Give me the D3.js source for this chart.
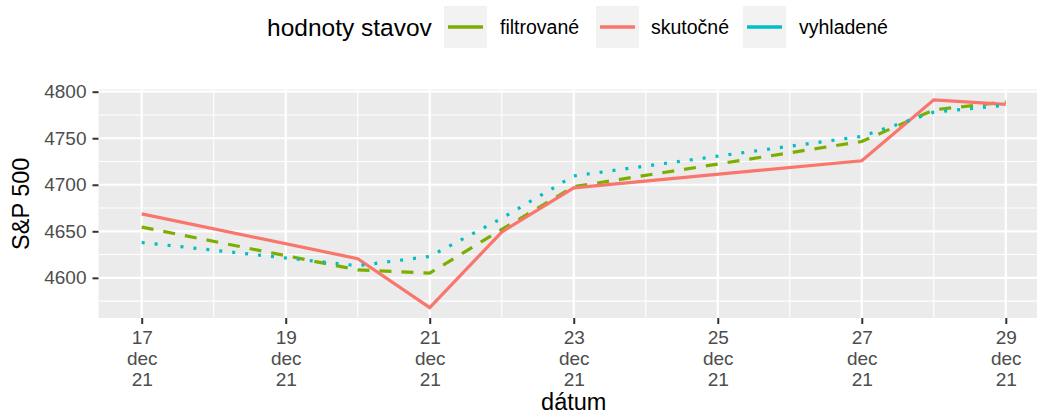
<!DOCTYPE html>
<html>
<head>
<meta charset="utf-8">
<script src="https://cdn.jsdelivr.net/npm/d3@7"></script>
<style>
  body { margin: 0; background: #fff; }
  text { font-family: "Liberation Sans", Arial, sans-serif; }
</style>
</head>
<body>
<div id="my_dataviz"></div>
<script>
// data
var dates = ["2021-12-17", "2021-12-20", "2021-12-21", "2021-12-22", "2021-12-23", "2021-12-27", "2021-12-28", "2021-12-29"];
var filtrovane = [4654.5, 4608.5, 4605, 4652, 4698, 4746.5, 4780.5, 4789];
var skutocne = [4668.7, 4620.6, 4568.0, 4649.2, 4696.6, 4725.8, 4791.2, 4786.4];
var vyhladene = [4638, 4613, 4623, 4664, 4709.5, 4752, 4778, 4785.5];

var seriesNames = ["filtrované", "skutočné", "vyhladené"];
var seriesColors = ["#7CAE00", "#F8766D", "#00BFC4"];
var seriesDash = ["12,10", null, "3,10"];

var xTickDays = ["2021-12-17", "2021-12-19", "2021-12-21", "2021-12-23", "2021-12-25", "2021-12-27", "2021-12-29"];
var xMinorDays = ["2021-12-16", "2021-12-18", "2021-12-20", "2021-12-22", "2021-12-24", "2021-12-26", "2021-12-28", "2021-12-30"];
var yTicks = [4600, 4650, 4700, 4750, 4800];
var yMinor = [4575, 4625, 4675, 4725, 4775, 4825];

// set the dimensions of the panel
var W = 1037, H = 416;
var panel = { left: 98.5, top: 89.5, right: 1049, bottom: 318 };

var svg = d3.select("#my_dataviz")
    .append("svg")
    .attr("width", W)
    .attr("height", H);

var parseDate = d3.utcParse("%Y-%m-%d");
var all = [filtrovane, skutocne, vyhladene];
var data = all.map(function (vals, i) {
    return {
        name: seriesNames[i],
        values: vals.map(function (v, j) { return { date: parseDate(dates[j]), value: v }; })
    };
});

// scales with ggplot style 5% expansion
var xExt = d3.extent(dates, function (d) { return parseDate(d); });
var xPad = (xExt[1] - xExt[0]) * 0.05;
var x = d3.scaleUtc()
    .domain([new Date(+xExt[0] - xPad), new Date(+xExt[1] + xPad)])
    .range([panel.left, panel.right]);

var yExt = d3.extent(d3.merge(all));
var yPad = (yExt[1] - yExt[0]) * 0.05;
var y = d3.scaleLinear()
    .domain([yExt[0] - yPad, yExt[1] + yPad])
    .range([panel.bottom, panel.top]);

// panel background
svg.append("rect")
    .attr("x", panel.left)
    .attr("y", panel.top)
    .attr("width", panel.right - panel.left)
    .attr("height", panel.bottom - panel.top)
    .attr("fill", "#EBEBEB");

var grid = svg.append("g");
// minor grid
grid.selectAll(".ymin").data(yMinor.filter(function (v) { return y(v) > panel.top && y(v) < panel.bottom; }))
    .enter().append("line")
    .attr("x1", panel.left).attr("x2", panel.right)
    .attr("y1", function (d) { return y(d); }).attr("y2", function (d) { return y(d); })
    .attr("stroke", "#fff").attr("stroke-width", 1.1);
grid.selectAll(".xmin").data(xMinorDays.map(parseDate).filter(function (d) { return x(d) > panel.left && x(d) < panel.right; }))
    .enter().append("line")
    .attr("x1", function (d) { return x(d); }).attr("x2", function (d) { return x(d); })
    .attr("y1", panel.top).attr("y2", panel.bottom)
    .attr("stroke", "#fff").attr("stroke-width", 1.1);
// major grid
grid.selectAll(".ymaj").data(yTicks)
    .enter().append("line")
    .attr("x1", panel.left).attr("x2", panel.right)
    .attr("y1", function (d) { return y(d); }).attr("y2", function (d) { return y(d); })
    .attr("stroke", "#fff").attr("stroke-width", 2.2);
grid.selectAll(".xmaj").data(xTickDays.map(parseDate))
    .enter().append("line")
    .attr("x1", function (d) { return x(d); }).attr("x2", function (d) { return x(d); })
    .attr("y1", panel.top).attr("y2", panel.bottom)
    .attr("stroke", "#fff").attr("stroke-width", 2.2);

// Y axis
var yAxis = svg.append("g")
    .attr("transform", "translate(" + panel.left + ",0)")
    .call(d3.axisLeft(y).tickValues(yTicks).tickSize(6).tickPadding(6).tickFormat(d3.format("d")));
yAxis.select(".domain").remove();
yAxis.selectAll(".tick line").attr("stroke", "#333333").attr("stroke-width", 2);
yAxis.selectAll(".tick text")
    .attr("fill", "#4D4D4D")
    .style("font-size", "19px")
    .style("font-family", "'Liberation Sans', Arial, sans-serif");

// X axis
var xAxis = svg.append("g")
    .attr("transform", "translate(0," + panel.bottom + ")")
    .call(d3.axisBottom(x).tickValues(xTickDays.map(parseDate)).tickSize(6).tickFormat(""));
xAxis.select(".domain").remove();
xAxis.selectAll(".tick line").attr("stroke", "#333333").attr("stroke-width", 2);
xAxis.selectAll(".tick").each(function (d) {
    var t = d3.select(this).append("text")
        .attr("fill", "#4D4D4D")
        .attr("text-anchor", "middle")
        .style("font-size", "19px")
        .attr("y", 26);
    var lines = [d3.utcFormat("%d")(d), "dec", d3.utcFormat("%y")(d)];
    lines.forEach(function (s, i) {
        t.append("tspan").attr("x", 0).attr("dy", i === 0 ? 0 : 21).text(s);
    });
});

// axis titles
svg.append("text")
    .attr("x", (panel.left + panel.right) / 2)
    .attr("y", 410)
    .attr("text-anchor", "middle")
    .style("font-size", "23.5px")
    .attr("fill", "#000")
    .text("dátum");
svg.append("text")
    .attr("transform", "translate(29," + ((panel.top + panel.bottom) / 2) + ") rotate(-90)")
    .attr("text-anchor", "middle")
    .style("font-size", "23.5px")
    .attr("fill", "#000")
    .text("S&P 500");

// the lines
var line = d3.line()
    .x(function (d) { return x(d.date); })
    .y(function (d) { return y(d.value); });

svg.append("g")
    .selectAll("path")
    .data(data)
    .enter()
    .append("path")
    .attr("fill", "none")
    .attr("stroke", function (d, i) { return seriesColors[i]; })
    .attr("stroke-width", 3.2)
    .attr("stroke-dasharray", function (d, i) { return seriesDash[i]; })
    .attr("d", function (d) { return line(d.values); });

// legend
var legend = svg.append("g");
legend.append("text")
    .attr("x", 267)
    .attr("y", 27)
    .attr("dominant-baseline", "central")
    .style("font-size", "24.5px")
    .attr("fill", "#000")
    .text("hodnoty stavov");
var keyX = [444, 596, 743];
var labX = [500, 651, 799];
seriesNames.forEach(function (name, i) {
    legend.append("rect")
        .attr("x", keyX[i]).attr("y", 6)
        .attr("width", 43).attr("height", 42)
        .attr("fill", "#F2F2F2");
    legend.append("line")
        .attr("x1", keyX[i] + 4).attr("x2", keyX[i] + 39)
        .attr("y1", 27).attr("y2", 27)
        .attr("stroke", seriesColors[i])
        .attr("stroke-width", 3.6);
    legend.append("text")
        .attr("x", labX[i])
        .attr("y", 27)
        .attr("dominant-baseline", "central")
        .style("font-size", "19.5px")
        .attr("fill", "#000")
        .text(name);
});
</script>
</body>
</html>
